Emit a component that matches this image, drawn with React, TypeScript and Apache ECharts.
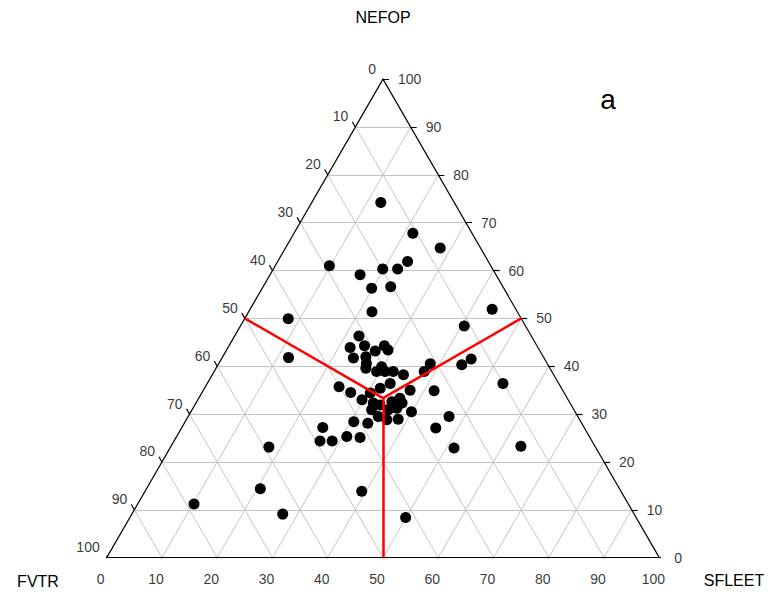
import React, { useEffect, useRef } from "react";
import * as echarts from "echarts";

const TICKS = [0, 10, 20, 30, 40, 50, 60, 70, 80, 90, 100];
const TICK_LABELS = TICKS.map(String);

// Ternary data points (percent): NEFOP (top), SFLEET (bottom-right), FVTR (bottom-left)
const nefop = [
  74.2, 67.8, 64.7, 61.0, 59.1, 60.3, 60.3, 61.9, 56.3, 56.6, 51.4, 51.9, 48.4, 49.9, 41.8,
  46.3, 43.9, 44.3, 43.2, 44.3, 43.4, 41.7, 42.0, 40.6, 39.6, 39.9, 38.9, 38.9, 38.9, 38.2,
  35.7, 34.5, 33.0, 34.4, 35.4, 36.4, 35.0, 32.3, 31.9, 32.6, 32.3, 33.3, 30.9, 30.9, 31.2,
  30.5, 29.5, 28.8, 28.9, 28.4, 28.1,
  40.5, 38.9, 40.3, 41.5, 36.4, 34.9, 29.5, 27.1, 22.9, 23.3,
  27.2, 24.4, 24.4, 25.3, 25.1, 23.1, 14.4, 11.2, 9.1, 13.9, 8.4,
];
const sfleet = [
  12.5, 21.5, 28.0, 9.8, 16.3, 19.8, 22.5, 23.5, 19.8, 23.1, 22.3, 43.8, 40.5, 7.9, 12.0,
  22.5, 22.1, 24.5, 27.0, 28.1, 29.2, 23.8, 25.9, 26.7, 27.1, 29.8, 29.4, 30.9, 32.4, 34.6,
  24.2, 26.9, 29.7, 30.5, 31.8, 33.1, 37.4, 32.1, 33.5, 35.3, 37.3, 36.4, 32.5, 35.5, 36.9,
  39.9, 34.4, 36.3, 38.3, 30.5, 33.2,
  38.3, 38.0, 44.1, 45.2, 53.5, 41.8, 47.2, 46.0, 51.4, 63.3,
  25.5, 26.4, 28.6, 30.8, 33.3, 17.8, 20.6, 10.2, 27.3, 39.2, 49.9,
];
const fvtr = nefop.map((n, i) => +(100 - n - sfleet[i]).toFixed(1));

const H = Math.sqrt(3) / 2;
const toXY = (s: number, n: number): [number, number] => [s + n / 2, n * H];

const GRID_LEFT = 106.7;
const GRID_TOP = 79.1;
const SIDE = 552.6;
const TICK_LEN = 1.1; // in data units
const FONT = 'Arial, "Liberation Sans", sans-serif';

export default function App() {
  const ref = useRef<HTMLDivElement>(null);

  useEffect(() => {
    if (!ref.current) return;
    const chart = echarts.init(ref.current, undefined, { renderer: "svg" });

    const gridLines: any[] = [];
    TICKS.filter((k) => k > 0 && k < 100).forEach((k) => {
      gridLines.push({ coords: [toXY(0, k), toXY(100 - k, k)] });
      gridLines.push({ coords: [toXY(k, 0), toXY(k, 100 - k)] });
      gridLines.push({ coords: [toXY(100 - k, 0), toXY(0, 100 - k)] });
    });

    const edges = [
      { coords: [toXY(0, 0), toXY(100, 0)] },
      { coords: [toXY(100, 0), toXY(0, 100)] },
      { coords: [toXY(0, 100), toXY(0, 0)] },
    ];

    const c60 = 0.5 * TICK_LEN;
    const s60 = H * TICK_LEN;
    const ticks: any[] = [];
    TICKS.forEach((k) => {
      const b = toXY(k, 0);
      ticks.push({ coords: [b, [b[0] - c60, b[1] - s60]] });
      const r = toXY(100 - k, k);
      ticks.push({ coords: [r, [r[0] + TICK_LEN, r[1]]] });
      const l = toXY(0, 100 - k);
      ticks.push({ coords: [l, [l[0] - c60, l[1] + s60]] });
    });

    const centre = toXY(100 / 3, 100 / 3);
    const redLines = [
      { coords: [centre, toXY(50, 0)] },
      { coords: [centre, toXY(0, 50)] },
      { coords: [centre, toXY(50, 50)] },
    ];

    const labelBase = {
      show: true,
      position: "inside",
      color: "#000",
      fontSize: 14,
      fontFamily: FONT,
      verticalAlign: "middle",
    };

    const bottomLabels = TICKS.map((k, i) => ({ value: toXY(k, 0), name: TICK_LABELS[i] }));
    const rightLabels = TICKS.map((k, i) => ({ value: toXY(100 - k, k), name: TICK_LABELS[i] }));
    const leftLabels = TICKS.map((k, i) => ({ value: toXY(0, 100 - k), name: TICK_LABELS[i] }));

    const points = nefop.map((n, i) => ({
      value: toXY(sfleet[i], n),
      raw: [fvtr[i], sfleet[i], n],
    }));

    chart.setOption({
      animation: false,
      grid: { left: GRID_LEFT, top: GRID_TOP, width: SIDE, height: SIDE * H, containLabel: false },
      xAxis: { type: "value", min: 0, max: 100, show: false },
      yAxis: { type: "value", min: 0, max: 100 * H, show: false },
      graphic: [
        { type: "text", x: 383, y: 17, style: { text: "NEFOP", fill: "#000", font: `16px ${FONT}`, textAlign: "center", textVerticalAlign: "middle" } },
        { type: "text", x: 38, y: 581, style: { text: "FVTR", fill: "#000", font: `16px ${FONT}`, textAlign: "center", textVerticalAlign: "middle" } },
        { type: "text", x: 734, y: 580, style: { text: "SFLEET", fill: "#000", font: `16px ${FONT}`, textAlign: "center", textVerticalAlign: "middle" } },
        { type: "text", x: 608, y: 99, style: { text: "a", fill: "#000", font: `28px ${FONT}`, textAlign: "center", textVerticalAlign: "middle" } },
      ],
      series: [
        {
          type: "lines", coordinateSystem: "cartesian2d", silent: true, z: 1,
          lineStyle: { color: "#c4c4c4", width: 1, opacity: 1 }, data: gridLines,
        },
        {
          type: "lines", coordinateSystem: "cartesian2d", silent: true, z: 2,
          lineStyle: { color: "#000", width: 1.2, opacity: 1 }, data: edges.concat(ticks),
        },
        {
          type: "scatter", symbolSize: 11, z: 3, itemStyle: { color: "#000", opacity: 1 }, data: points,
        },
        {
          type: "lines", coordinateSystem: "cartesian2d", silent: true, z: 4,
          lineStyle: { color: "#ff0000", width: 2.5, opacity: 1 }, data: redLines,
        },
        {
          type: "scatter", symbolSize: 0, silent: true, z: 5, data: bottomLabels,
          label: { ...labelBase, align: "center", offset: [-6, 21], formatter: (p: any) => p.name },
        },
        {
          type: "scatter", symbolSize: 0, silent: true, z: 5, data: rightLabels,
          label: { ...labelBase, align: "left", offset: [15, 0], formatter: (p: any) => p.name },
        },
        {
          type: "scatter", symbolSize: 0, silent: true, z: 5, data: leftLabels,
          label: { ...labelBase, align: "right", offset: [-7, -10.5], formatter: (p: any) => p.name },
        },
      ],
    });

    return () => chart.dispose();
  }, []);

  return <div ref={ref} style={{ position: "absolute", left: 0, top: 0, width: 772, height: 597 }} />;
}
